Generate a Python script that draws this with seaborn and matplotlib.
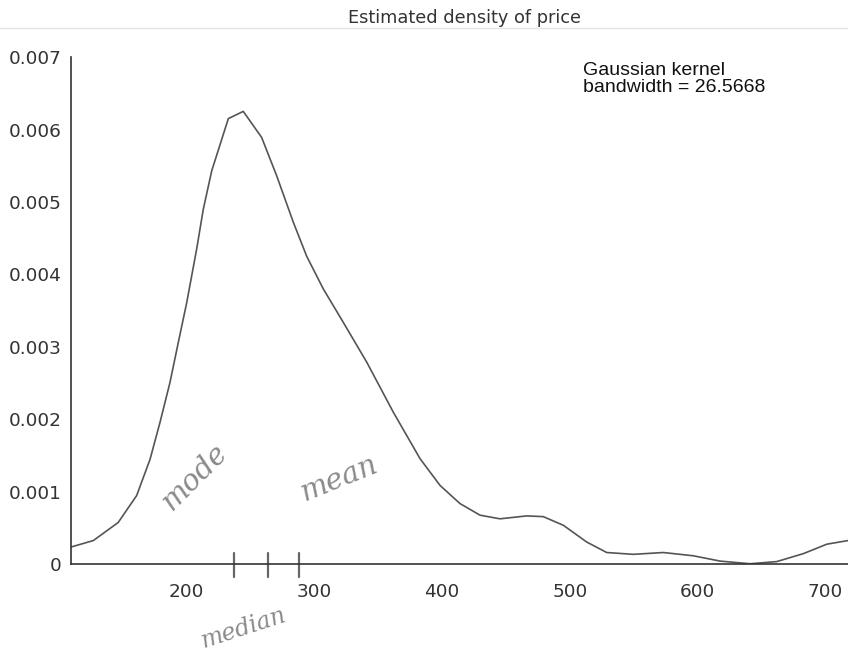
import matplotlib
matplotlib.use("Agg")
import matplotlib.pyplot as plt
import seaborn as sns
import pandas as pd
from matplotlib.lines import Line2D

# ---- data ----
price = [109.4, 111.2, 126.9, 146.4, 160.8, 171.3, 179.1, 186.9, 193.4, 200.0,
         207.8, 213.0, 219.6, 232.6, 244.3, 258.7, 270.5, 283.5, 294.0, 307.0,
         322.6, 341.0, 361.8, 382.7, 398.4, 414.0, 429.7, 445.3, 466.2, 479.2,
         495.0, 513.2, 528.9, 549.7, 573.2, 596.7, 617.6, 641.0, 662.0, 682.9,
         701.2, 717.8]
density = [0.00024, 0.00025, 0.00033, 0.00058, 0.00095, 0.00145, 0.00196, 0.00251,
           0.00306, 0.00361, 0.00435, 0.00490, 0.00543, 0.00615, 0.00625, 0.00589,
           0.00536, 0.00472, 0.00425, 0.00380, 0.00334, 0.00279, 0.00210, 0.00146,
           0.00109, 0.00084, 0.00068, 0.00063, 0.00067, 0.00066, 0.00054, 0.00031,
           0.000165, 0.00014, 0.000165, 0.00012, 0.000047, 0.00001, 0.00004,
           0.00015, 0.00028, 0.00033]
x_ticks = [200, 300, 400, 500, 600, 700]
y_ticks = [0, 0.001, 0.002, 0.003, 0.004, 0.005, 0.006, 0.007]
y_tick_labels = ["0", "0.001", "0.002", "0.003", "0.004", "0.005", "0.006", "0.007"]
hand_marks = [237.3, 263.9, 287.9]          # handwritten marks on the axis
title_text = "Estimated density of price"
kernel_text = "Gaussian kernel\nbandwidth = 26.5668"
hand_labels = ["mode", "mean", "median"]

df = pd.DataFrame({"price": price, "density": density})

sns.set_style("white")
plt.rcParams["font.family"] = ["DejaVu Sans"]

fig = plt.figure(figsize=(8.48, 6.56), dpi=100)
ax = fig.add_axes([0.0837, 0.1395, 0.9163, 0.7736])

sns.lineplot(data=df, x="price", y="density", ax=ax, color="#555555",
             linewidth=1.2, estimator=None, sort=False)

ax.set_xlim(109.4, 717.8)
ax.set_ylim(0, 0.007)
ax.set_xticks(x_ticks)
ax.set_xticklabels([str(v) for v in x_ticks])
ax.set_yticks(y_ticks)
ax.set_yticklabels(y_tick_labels)
ax.set_xlabel("")
ax.set_ylabel("")

for s in ["top", "right"]:
    ax.spines[s].set_visible(False)
for s in ["left", "bottom"]:
    ax.spines[s].set_color("#333333")
    ax.spines[s].set_linewidth(1.2)

ax.tick_params(axis="x", direction="in", length=9, width=1.1, colors="#333333",
               labelsize=13.3, pad=13)
ax.tick_params(axis="y", direction="in", length=7, width=1.1, colors="#333333",
               labelsize=13.3, pad=7)

# handwritten marks across the axis
for hm in hand_marks:
    ax.plot([hm, hm], [-0.00017, 0.00016], color="#666666", linewidth=1.6,
            clip_on=False, solid_capstyle="round")

# handwritten words
ax.text(0.160, 0.172, hand_labels[0], transform=ax.transAxes, rotation=45,
        fontsize=21, color="#8a8a8a", style="italic", ha="center", va="center",
        family=["DejaVu Serif"])
ax.text(0.346, 0.17, hand_labels[1], transform=ax.transAxes, rotation=22,
        fontsize=21, color="#8a8a8a", style="italic", ha="center", va="center",
        family=["DejaVu Serif"])
fig.text(0.287, 0.042, hand_labels[2], rotation=18, fontsize=17,
         color="#8a8a8a", style="italic", ha="center", va="center",
         family=["DejaVu Serif"])

# kernel annotation
ax.text(0.6585, 0.99, kernel_text, transform=ax.transAxes, ha="left", va="top",
        fontsize=14, color="#111111", linespacing=1.0,
        family=["Liberation Sans Narrow", "Liberation Sans"])

# title
fig.text(0.548, 0.972, title_text, ha="center", va="center", fontsize=12.8,
         color="#333333")

# faint scan line under the title
fig.add_artist(Line2D([0.0, 1.0], [0.958, 0.958], transform=fig.transFigure,
                      color="#e3e3e3", linewidth=1.0))

fig.savefig("out.png", dpi=100)
